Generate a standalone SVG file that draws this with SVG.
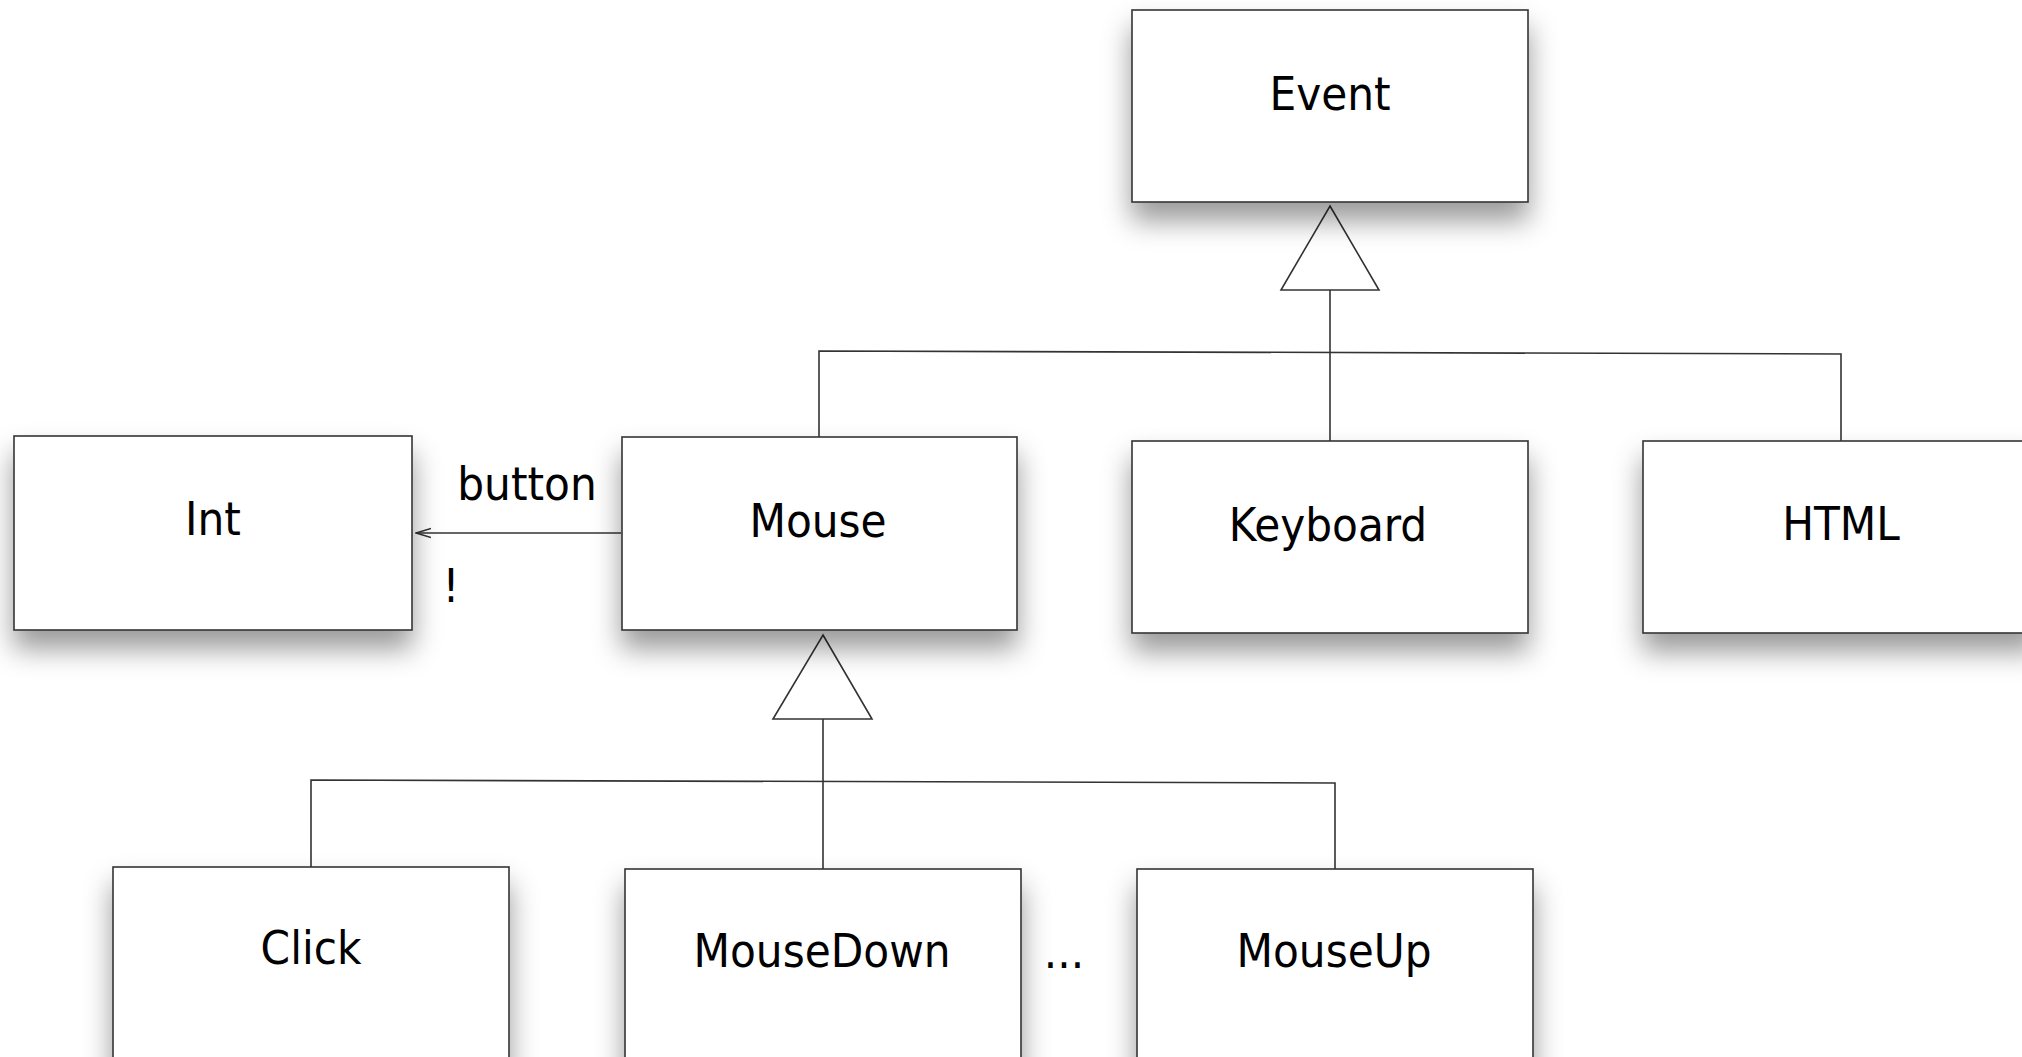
<svg xmlns="http://www.w3.org/2000/svg" width="2022" height="1057" viewBox="0 0 2022 1057">
<style>
.box{fill:#fff;stroke:#333;stroke-width:1.6;filter:url(#sh)}
.lbl{font-family:"DejaVu Sans Condensed","DejaVu Sans","Liberation Sans",sans-serif;font-stretch:condensed;font-size:47px;fill:#000;text-anchor:middle}
.ln{fill:none;stroke:#333;stroke-width:1.6}
.tri{fill:#fff;stroke:#333;stroke-width:1.6;stroke-linejoin:miter}
</style>
<defs>
<filter id="sh" x="-20%" y="-20%" width="140%" height="170%">
<feDropShadow dx="0" dy="18" stdDeviation="14" flood-color="#000" flood-opacity="0.4"/>
</filter>
<marker id="open" viewBox="0 0 16 12" refX="15" refY="6" markerWidth="16" markerHeight="12" markerUnits="userSpaceOnUse" orient="auto">
<path d="M0,1.5 L15,6 L0,10.5" fill="none" stroke="#333" stroke-width="1.6"/>
</marker>
</defs>
<rect width="2022" height="1057" fill="#fff"/>

<g id="connectors">
<path class="ln" d="M1330,290 L1330,441"/>
<path class="ln" d="M819,437 L819,351 L1841,354 L1841,441"/>
<polygon class="tri" points="1330,206 1379,290 1281,290"/>
<path class="ln" d="M823,719 L823,869"/>
<path class="ln" d="M311,867 L311,780 L1335,783 L1335,869"/>
<polygon class="tri" points="823,635 872,719 773,719"/>
<path class="ln" d="M621,533 L416,533" marker-end="url(#open)"/>
<text class="lbl" x="527" y="500">button</text>
<text class="lbl" x="451" y="602">!</text>
</g>

<g id="node-event"><rect class="box" x="1132" y="10" width="396" height="192"/><text class="lbl" x="1330" y="110">Event</text></g>
<g id="node-int"><rect class="box" x="14" y="436" width="398" height="194"/><text class="lbl" x="213" y="535">Int</text></g>
<g id="node-mouse"><rect class="box" x="622" y="437" width="395" height="193"/><text class="lbl" x="818" y="537">Mouse</text></g>
<g id="node-keyboard"><rect class="box" x="1132" y="441" width="396" height="192"/><text class="lbl" x="1328" y="541">Keyboard</text></g>
<g id="node-html"><rect class="box" x="1643" y="441" width="396" height="192"/><text class="lbl" x="1841" y="540">HTML</text></g>
<g id="node-click"><rect class="box" x="113" y="867" width="396" height="200"/><text class="lbl" x="311" y="964">Click</text></g>
<g id="node-mousedown"><rect class="box" x="625" y="869" width="396" height="200"/><text class="lbl" x="822" y="967">MouseDown</text></g>
<g id="node-mouseup"><rect class="box" x="1137" y="869" width="396" height="200"/><text class="lbl" x="1334" y="967">MouseUp</text></g>
<g id="ellipsis"><text class="lbl" x="1064" y="968">...</text></g>
</svg>
